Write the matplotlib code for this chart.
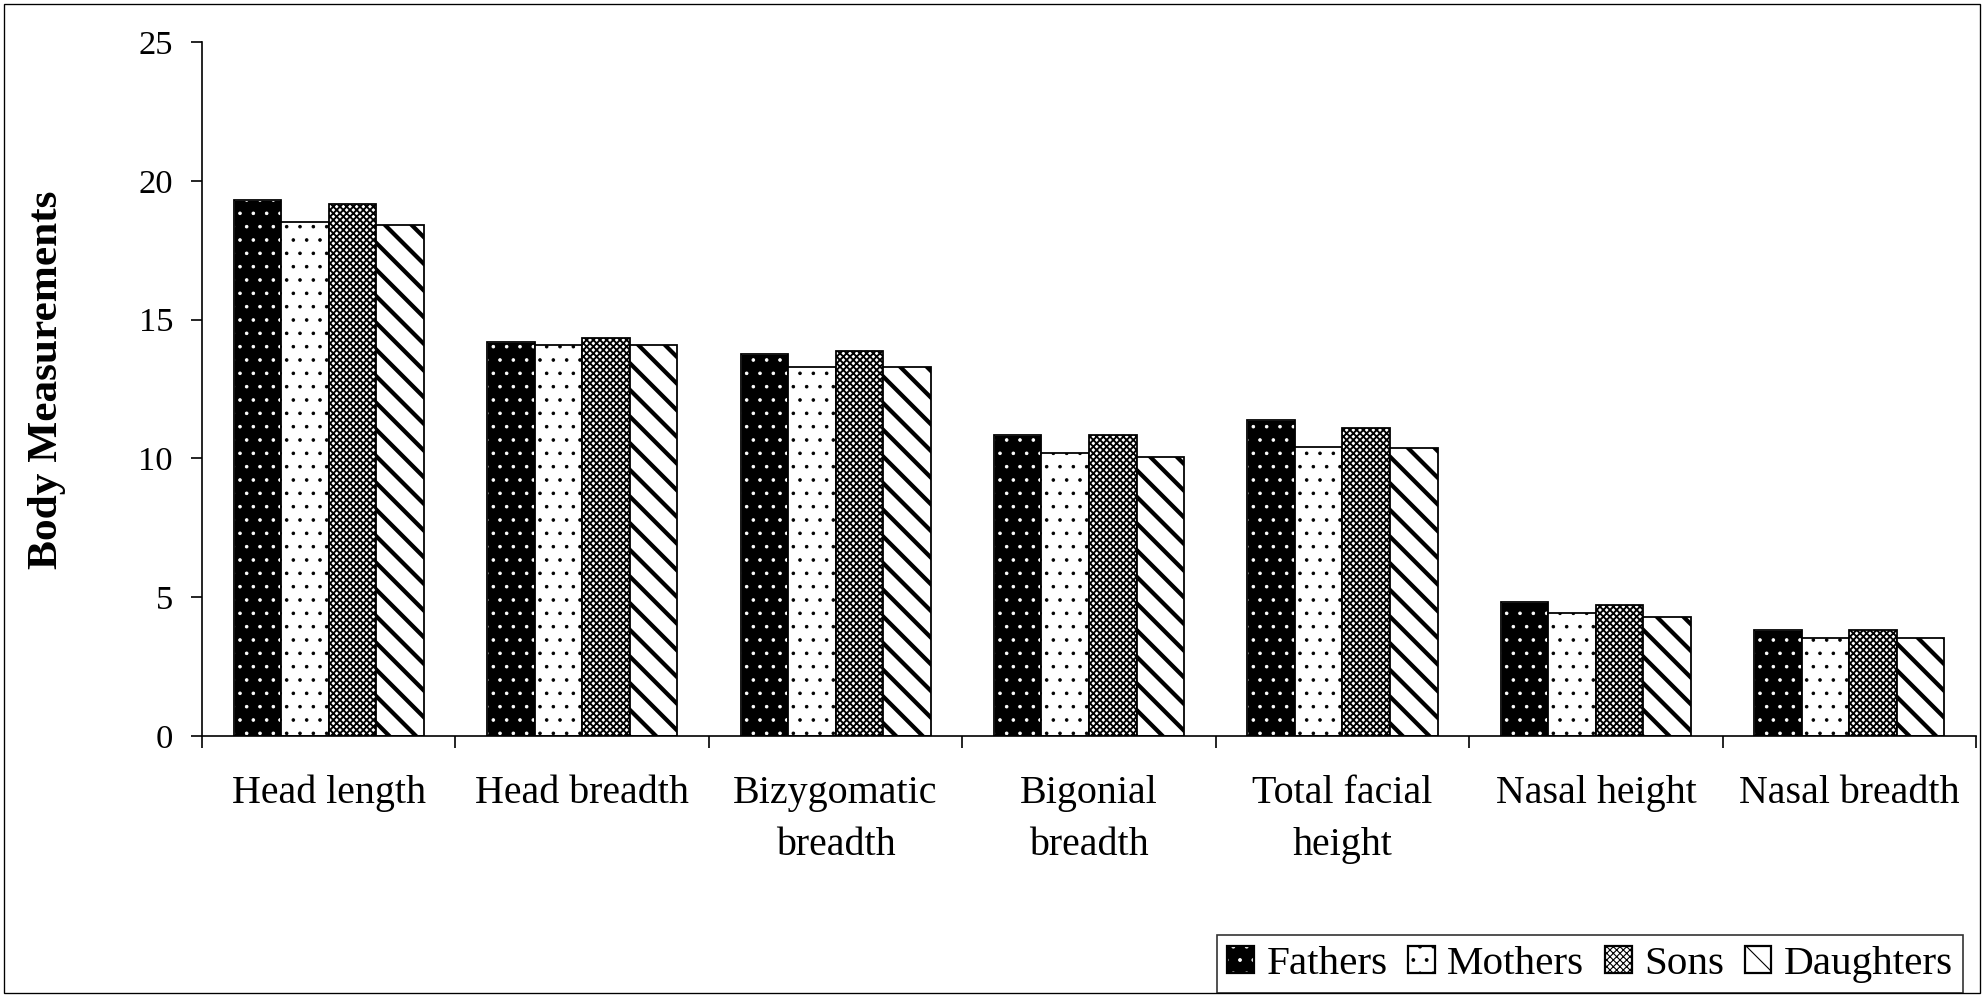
import numpy as np
import matplotlib
matplotlib.use("Agg")
import matplotlib.pyplot as plt
from matplotlib.patches import Patch, Rectangle

# data
categories = ["Head length", "Head breadth", "Bizygomatic\nbreadth", "Bigonial\nbreadth",
              "Total facial\nheight", "Nasal height", "Nasal breadth"]
series = ["Fathers", "Mothers", "Sons", "Daughters"]
fathers = [19.31, 14.20, 13.75, 10.84, 11.39, 4.84, 3.81]
mothers = [18.53, 14.08, 13.30, 10.20, 10.41, 4.42, 3.53]
sons = [19.17, 14.35, 13.87, 10.83, 11.10, 4.71, 3.81]
daughters = [18.41, 14.08, 13.30, 10.06, 10.36, 4.28, 3.53]

plt.rcParams['font.family'] = ['Liberation Serif', 'DejaVu Serif']

# hatch line width for each series
HLW = [0.8, 0.8, 1.7, 3.8]


def set_hlw(patches, lw):
    for p in patches:
        p.set_hatch_linewidth(lw)
    return patches


DPI = 80
fig = plt.figure(figsize=(1984 / DPI, 995 / DPI), dpi=DPI)
ax = fig.add_axes([0.1018, 0.2603, 0.8942, 0.6975])

x = np.arange(len(categories))
w = 0.1875
offs = (np.arange(4) - 1.5) * w

# fathers: black with white dots, then a black outline on top
set_hlw(ax.bar(x + offs[0], fathers, w, color='black', edgecolor='white', hatch='.', linewidth=0.5), HLW[0])
ax.bar(x + offs[0], fathers, w, facecolor='none', edgecolor='black', linewidth=1.6)
set_hlw(ax.bar(x + offs[1], mothers, w, color='white', edgecolor='black', hatch='.', linewidth=1.6), HLW[1])
set_hlw(ax.bar(x + offs[2], sons, w, color='white', edgecolor='black', hatch='xxxx', linewidth=1.6), HLW[2])
set_hlw(ax.bar(x + offs[3], daughters, w, color='white', edgecolor='black', hatch='\\', linewidth=1.6), HLW[3])

ax.set_xlim(-0.5, 6.5)
ax.set_ylim(0, 25)
ax.set_yticks(np.arange(0, 26, 5))
ax.set_xticks(np.arange(-0.5, 7, 1))
ax.set_xticklabels([])
ax.set_xticks(x, minor=True)
ax.set_xticklabels(categories, minor=True, fontsize=36, linespacing=1.55)
ax.tick_params(axis='x', which='major', length=11, width=1.5, direction='out')
ax.tick_params(axis='x', which='minor', length=0, pad=35)
ax.tick_params(axis='y', length=10, width=1.5, direction='out', pad=16, labelsize=31)

for s in ['top', 'right']:
    ax.spines[s].set_visible(False)
for s in ['left', 'bottom']:
    ax.spines[s].set_linewidth(1.5)

fig.text(47 / 1984, 1 - 380 / 995, "Body Measurements", rotation=90, ha='center', va='center',
         fontsize=39, fontweight='bold')

handles = [
    (set_hlw([Patch(facecolor='black', edgecolor='white', hatch='.', linewidth=0.5)], HLW[0])[0],
     Patch(facecolor='none', edgecolor='black', linewidth=2)),
    set_hlw([Patch(facecolor='white', edgecolor='black', hatch='.', linewidth=2)], HLW[1])[0],
    set_hlw([Patch(facecolor='white', edgecolor='black', hatch='xxxx', linewidth=2)], HLW[2])[0],
    set_hlw([Patch(facecolor='white', edgecolor='black', hatch='\\', linewidth=2)], HLW[3])[0],
]
leg = ax.legend(handles, series, loc='lower right', bbox_to_anchor=(0.9894, 0.002),
                bbox_transform=fig.transFigure, ncol=4,
                prop={'family': ['Liberation Serif'], 'size': 37}, frameon=True,
                fancybox=False, handlelength=0.65, handleheight=0.65, handletextpad=0.3,
                columnspacing=0.5, borderpad=0.25, borderaxespad=0)
leg.get_frame().set_edgecolor('black')
leg.get_frame().set_linewidth(1.5)

# frame round the whole picture
fig.patches.append(Rectangle((0.002, 0.002), 0.996, 0.994, transform=fig.transFigure,
                             fill=False, edgecolor='black', linewidth=1.2))

fig.savefig('out.png', dpi=DPI)
